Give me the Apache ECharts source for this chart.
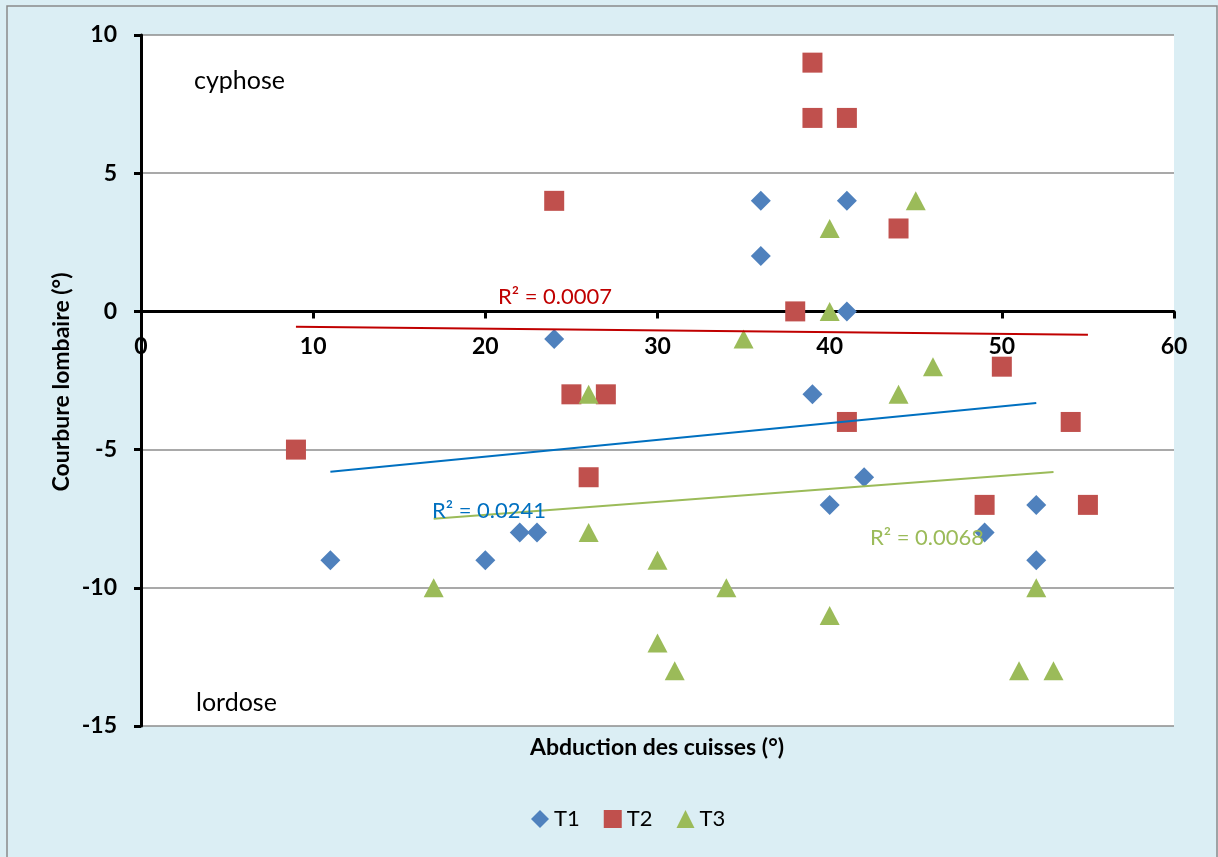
<!DOCTYPE html>
<html>
<head>
<meta charset="utf-8">
<script src="https://cdn.jsdelivr.net/npm/echarts@6/dist/echarts.min.js"></script>
<style>
  html, body { margin: 0; padding: 0; background: #dbeef4; }
  #chart { width: 1218px; height: 857px; }
</style>
</head>
<body>
<div id="chart"></div>
<script>
// data: abduction (x) / lumbar curve (y)
const t1X = [11, 20, 22, 23, 24, 36, 36, 39, 40, 41, 41, 42, 49, 52, 52];
const t1Y = [-9, -9, -8, -8, -1, 4, 2, -3, -7, 4, 0, -6, -8, -7, -9];
const t2X = [9, 24, 25, 26, 27, 38, 39, 39, 41, 41, 44, 49, 50, 54, 55];
const t2Y = [-5, 4, -3, -6, -3, 0, 9, 7, 7, -4, 3, -7, -2, -4, -7];
const t3X = [17, 26, 26, 30, 30, 31, 34, 35, 40, 40, 40, 44, 45, 46, 51, 52, 53];
const t3Y = [-10, -3, -8, -9, -12, -13, -10, -1, 3, 0, -11, -3, 4, -2, -13, -10, -13];
const seriesNames = ['T1', 'T2', 'T3'];
const r2Labels = ['R² = 0.0241', 'R² = 0.0007', 'R² = 0.0068'];
const xTicks = [0, 10, 20, 30, 40, 50, 60];
const yTicks = [-15, -10, -5, 0, 5, 10];

const font = 'Lato, "Open Sans", sans-serif';

function pairs(xs, ys) {
  return xs.map((x, i) => [x, ys[i]]);
}

// least squares line, drawn from min x to max x like Excel does
function trend(xs, ys) {
  const n = xs.length;
  const mx = xs.reduce((a, b) => a + b, 0) / n;
  const my = ys.reduce((a, b) => a + b, 0) / n;
  let sxy = 0, sxx = 0;
  for (let i = 0; i < n; i++) {
    sxy += (xs[i] - mx) * (ys[i] - my);
    sxx += (xs[i] - mx) * (xs[i] - mx);
  }
  const b = sxy / sxx;
  const a = my - b * mx;
  const x0 = Math.min(...xs), x1 = Math.max(...xs);
  return [[x0, a + b * x0], [x1, a + b * x1]];
}

const chart = echarts.init(document.getElementById('chart'));

const option = {
  backgroundColor: '#dbeef4',
  animation: false,
  textStyle: { fontFamily: font },
  grid: {
    left: 141, right: 44, top: 35, bottom: 131,
    show: true, backgroundColor: '#fff', borderWidth: 0
  },
  legend: {
    bottom: 22,
    left: 526,
    itemWidth: 18,
    itemHeight: 18,
    itemGap: 24,
    textStyle: { fontSize: 22, color: '#000', fontFamily: font },
    data: [
      { name: 'T1', icon: 'diamond' },
      { name: 'T2', icon: 'rect' },
      { name: 'T3', icon: 'triangle' }
    ]
  },
  xAxis: {
    type: 'value',
    min: xTicks[0], max: xTicks[xTicks.length - 1], interval: 10,
    axisLine: { show: true, onZero: false, lineStyle: { color: '#000', width: 3 } },
    axisTick: { show: true, length: 7, lineStyle: { color: '#000', width: 3 } },
    axisLabel: { fontSize: 23, fontWeight: 'bold', color: '#000', margin: 24, fontFamily: font },
    splitLine: { show: false }
  },
  yAxis: {
    type: 'value',
    min: yTicks[0], max: yTicks[yTicks.length - 1], interval: 5,
    axisLine: { show: true, onZero: false, lineStyle: { color: '#000', width: 3 } },
    axisTick: { show: true, length: 7, lineStyle: { color: '#000', width: 3 } },
    axisLabel: { fontSize: 23, fontWeight: 'bold', color: '#000', margin: 24, fontFamily: font },
    splitLine: { show: true, lineStyle: { color: '#8c8c8c', width: 1.5 } }
  },
  graphic: [
    { type: 'rect', shape: { x: 7, y: 6, width: 1210, height: 860 },
      style: { fill: 'none', stroke: '#8a8a8a', lineWidth: 1.5 }, z: 100 },
    { type: 'text', x: 194, y: 81, style: { text: 'cyphose', font: '25px ' + font, fill: '#000', textVerticalAlign: 'middle' } },
    { type: 'text', x: 196, y: 703, style: { text: 'lordose', font: '25px ' + font, fill: '#000', textVerticalAlign: 'middle' } },
    { type: 'text', x: 657, y: 748, style: { text: 'Abduction des cuisses (°)', font: 'bold 23px ' + font, fill: '#000', textAlign: 'center', textVerticalAlign: 'middle' } },
    { type: 'text', x: 62, y: 382, rotation: Math.PI / 2,
      style: { text: 'Courbure lombaire (°)', font: 'bold 23px ' + font, fill: '#000', textAlign: 'center', textVerticalAlign: 'middle' } },
    { type: 'text', x: 489, y: 511, style: { text: r2Labels[0], font: '22px ' + font, fill: '#0070c0', textAlign: 'center', textVerticalAlign: 'middle' }, z: 50 },
    { type: 'text', x: 555, y: 297, style: { text: r2Labels[1], font: '22px ' + font, fill: '#c00000', textAlign: 'center', textVerticalAlign: 'middle' }, z: 50 },
    { type: 'text', x: 927, y: 538, style: { text: r2Labels[2], font: '22px ' + font, fill: '#9bbb59', textAlign: 'center', textVerticalAlign: 'middle' }, z: 50 }
  ],
  series: [
    { name: 'T1', type: 'scatter', symbol: 'diamond', symbolSize: 20,
      itemStyle: { color: '#4f81bd', opacity: 1 }, data: pairs(t1X, t1Y), z: 6 },
    { name: 'T2', type: 'scatter', symbol: 'rect', symbolSize: 20,
      itemStyle: { color: '#c0504d', opacity: 1 }, data: pairs(t2X, t2Y), z: 6 },
    { name: 'T3', type: 'scatter', symbol: 'triangle', symbolSize: [20, 19],
      itemStyle: { color: '#9bbb59', opacity: 1 }, data: pairs(t3X, t3Y), z: 6 },
    { name: 'T1 trend', type: 'line', data: trend(t1X, t1Y), showSymbol: false, symbol: 'none',
      lineStyle: { color: '#0070c0', width: 2 }, z: 7, silent: true },
    { name: 'T2 trend', type: 'line', data: trend(t2X, t2Y), showSymbol: false, symbol: 'none',
      lineStyle: { color: '#c00000', width: 2 }, z: 7, silent: true },
    { name: 'T3 trend', type: 'line', data: trend(t3X, t3Y), showSymbol: false, symbol: 'none',
      lineStyle: { color: '#9bbb59', width: 2 }, z: 7, silent: true }
  ]
};

chart.setOption(option);

// the x axis crosses the y axis at 0: move it up from the bottom by the scale's own distance
const zeroPx = chart.convertToPixel({ yAxisIndex: 0 }, 0);
const bottomPx = chart.convertToPixel({ yAxisIndex: 0 }, yTicks[0]);
chart.setOption({ xAxis: { offset: zeroPx - bottomPx } });
</script>
</body>
</html>
